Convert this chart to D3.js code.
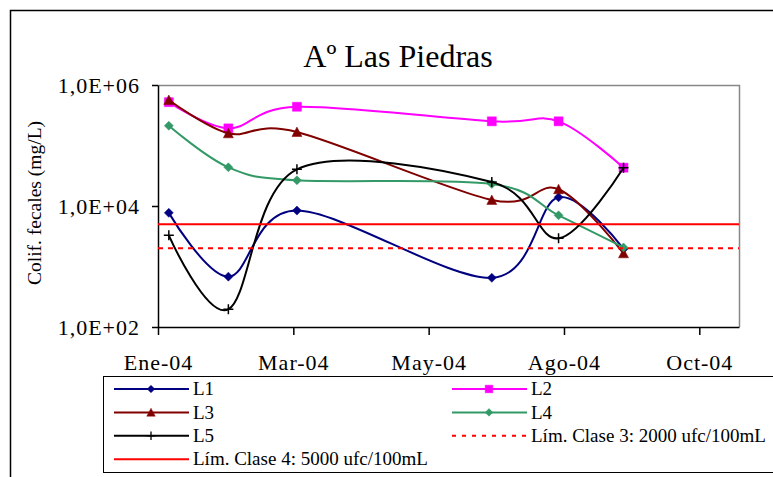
<!DOCTYPE html>
<meta charset="utf-8">
<style>
  body { margin: 0; background: #fff; }
</style>
<script src="https://cdn.jsdelivr.net/npm/d3@7"></script>
<div id="chart"></div>
<script>
// sampling dates and measured values (log axis)
const sampleDates = ["2004-01-07", "2004-02-09", "2004-03-18", "2004-07-04", "2004-08-10", "2004-09-15"];
const L1 = [7700, 680, 8400, 650, 13900, 1950];
const L2 = [520000, 192000, 437000, 251000, 251000, 43000];
const L3 = [565000, 159000, 167000, 12600, 18900, 1650];
const L4 = [212000, 43600, 26600, 23100, 7000, 2070];
const L5 = [3270, 196, 40400, 24900, 2920, 43000];
const limClase3 = 2000, limClase4 = 5000;

const tickDates = ["2004-01-01", "2004-03-16", "2004-05-30", "2004-08-13", "2004-10-27"];
const tickLabels = ["Ene-04", "Mar-04", "May-04", "Ago-04", "Oct-04"];
const yTicks = [1e2, 1e4, 1e6];
const yLabels = ["1,0E+02", "1,0E+04", "1,0E+06"];

const FONT = "Liberation Serif";
const W = 773, H = 477;
const margin = {top: 85, left: 158, right: 34, bottom: 150};
const width = W - margin.left - margin.right, height = H - margin.top - margin.bottom;
const parse = d3.utcParse("%Y-%m-%d");

let svg = d3.select("#chart").append("svg").attr("width", W).attr("height", H)
    .attr("font-family", FONT);

// chart frame
svg.append("rect").attr("x", 10.5).attr("y", 10.5).attr("width", 800).attr("height", 500)
    .attr("fill", "none").attr("stroke", "#000").attr("stroke-width", 1.5);

svg.append("text").attr("x", 398).attr("y", 67).attr("text-anchor", "middle")
    .attr("font-family", FONT).attr("font-size", 32).text("Aº Las Piedras");

let x = d3.scaleUtc().domain([parse("2004-01-01"), parse("2004-11-18")]).range([0, width]);
let y = d3.scaleLog().domain([1e2, 1e6]).range([height, 0]);

let g = svg.append("g").attr("transform", "translate(" + margin.left + "," + margin.top + ")");

// top / right plot border (grey)
g.append("path").attr("d", "M0,0.5H" + (width + 0.5) + "V" + height)
    .attr("fill", "none").attr("stroke", "#888").attr("stroke-width", 1.5);

g.append("g")
    .attr("transform", "translate(0," + height + ")")
    .call(d3.axisBottom(x).tickValues(tickDates.map(parse)).tickSizeInner(8).tickSizeOuter(0).tickPadding(19)
        .tickFormat((d, i) => tickLabels[i]))
    .attr("font-family", FONT).attr("font-size", 22)
    .call(a => a.selectAll("text").attr("letter-spacing", 1))
    .call(a => a.selectAll("line,path").attr("stroke-width", 1.5));

g.append("g")
    .call(d3.axisLeft(y).tickValues(yTicks).tickSizeInner(6).tickSizeOuter(0).tickPadding(12)
        .tickFormat((d, i) => yLabels[i]))
    .attr("font-family", FONT).attr("font-size", 22)
    .call(a => a.selectAll("text").attr("letter-spacing", 1))
    .call(a => a.selectAll("line,path").attr("stroke-width", 1.5));

svg.append("text")
    .attr("transform", "translate(41," + (margin.top + 118) + ") rotate(-90)")
    .attr("text-anchor", "middle").attr("font-family", FONT).attr("font-size", 19.5)
    .text("Colif. fecales (mg/L)");

const symbols = {
  diamond: "M0,-4.5L4.5,0L0,4.5L-4.5,0Z",
  square: "M-4.5,-4.5H4.5V4.5H-4.5Z",
  triangle: "M0,-5L5,4.5H-5Z",
  plus: "M-5,0H5M0,-5V5"
};

const series = [
  {name: "L1", values: L1, color: "#000080", marker: "diamond"},
  {name: "L2", values: L2, color: "#ff00ff", marker: "square"},
  {name: "L3", values: L3, color: "#800000", marker: "triangle"},
  {name: "L4", values: L4, color: "#339966", marker: "diamond"},
  {name: "L5", values: L5, color: "#000000", marker: "plus"}
];

let line = d3.line().curve(d3.curveCatmullRom.alpha(0))
    .x(d => x(d[0])).y(d => y(d[1]));

function drawMarker(sel, s) {
  sel.append("path").attr("d", symbols[s.marker])
      .attr("fill", s.marker == "plus" ? "none" : s.color)
      .attr("stroke", s.color).attr("stroke-width", s.marker == "plus" ? 1.5 : 0.5);
}

series.forEach(s => {
  let pts = sampleDates.map((d, i) => [parse(d), s.values[i]]);
  g.append("path").datum(pts).attr("d", line)
      .attr("fill", "none").attr("stroke", s.color).attr("stroke-width", 2);
  g.selectAll(null).data(pts).enter().append("g")
      .attr("transform", d => "translate(" + x(d[0]) + "," + y(d[1]) + ")")
      .each(function() { drawMarker(d3.select(this), s); });
});

// limit lines across the whole date axis
const limits = [
  {name: "Lím. Clase 3: 2000 ufc/100mL", value: limClase3, dash: "5,5"},
  {name: "Lím. Clase 4: 5000 ufc/100mL", value: limClase4, dash: null}
];
limits.forEach(l => {
  g.append("path").datum(x.domain().map(d => [d, l.value]))
      .attr("d", d3.line().x(d => x(d[0])).y(d => y(d[1])))
      .attr("fill", "none").attr("stroke", "#ff0000").attr("stroke-width", 2)
      .attr("stroke-dasharray", l.dash);
});

// legend
svg.append("rect").attr("x", 103.5).attr("y", 376.5).attr("width", 700).attr("height", 96)
    .attr("fill", "#fff").attr("stroke", "#000").attr("stroke-width", 1);

const legendItems = [
  series[0], series[1], series[2], series[3], series[4],
  {name: limits[0].name, color: "#ff0000", dash: "4,6"},
  {name: limits[1].name, color: "#ff0000"}
];
legendItems.forEach((s, i) => {
  let col = i % 2, row = Math.floor(i / 2);
  let lx = col == 0 ? 114 : 452;
  let item = svg.append("g").attr("transform", "translate(" + lx + "," + (389 + row * 23.4) + ")");
  item.append("line").attr("x1", 0).attr("x2", 75)
      .attr("stroke", s.color).attr("stroke-width", 2).attr("stroke-dasharray", s.dash || null);
  if (s.marker) {
    let m = item.append("g").attr("transform", "translate(37,0) scale(0.85)");
    drawMarker(m, s);
  }
  item.append("text").attr("x", 79).attr("dy", "0.33em").attr("font-family", FONT)
      .attr("font-size", 19).text(s.name);
});
</script>
